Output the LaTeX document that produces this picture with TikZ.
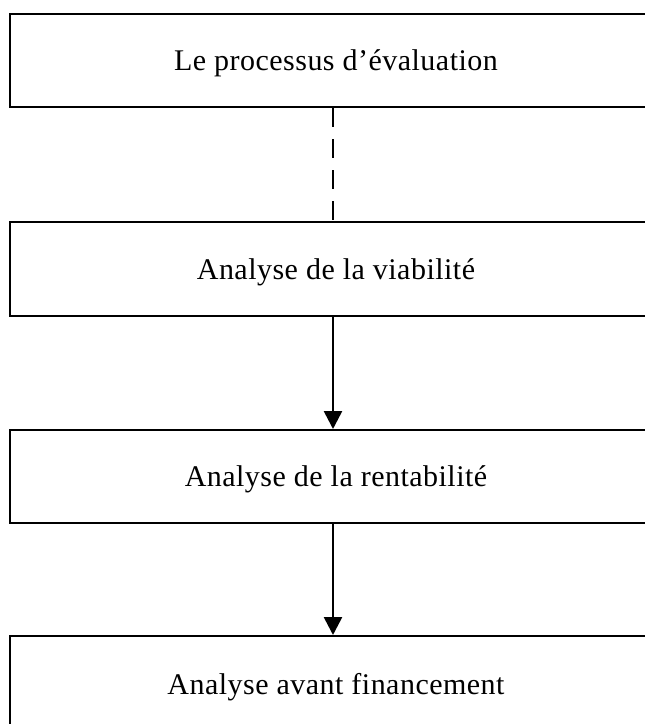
\documentclass[tikz,border=0pt]{standalone}
\usepackage{fontspec}
\setmainfont{Liberation Serif}[LetterSpace=1.6]
\usetikzlibrary{arrows.meta}
\begin{document}
\begin{tikzpicture}[x=1pt,y=1pt,
  stagebox/.style={draw, line width=2pt, anchor=north west, minimum width=652pt, minimum height=93pt, inner sep=0pt, font=\fontsize{30}{34}\selectfont, text depth=0pt},
  conn/.style={line width=2.6pt, -{Triangle[length=18pt,width=18pt]}},
  dashconn/.style={line width=2.6pt, dash pattern=on 19pt off 12pt}]
\useasboundingbox (0,0) rectangle (645,-724);
\clip (0,0) rectangle (645,-724);
\node[stagebox] (b1) at (9,-13) {Le processus d’évaluation};
\node[stagebox, minimum height=94pt] (b2) at (9,-221) {Analyse de la viabilité};
\node[stagebox] (b3) at (9,-429) {Analyse de la rentabilité};
\node[stagebox, minimum height=95pt] (b4) at (9,-635) {Analyse avant financement};
\draw[dashconn] (b1.south -| 333,0) -- (b2.north -| 333,0);
\draw[conn] (b2.south -| 333,0) -- (b3.north -| 333,0);
\draw[conn] (b3.south -| 333,0) -- (b4.north -| 333,0);
\end{tikzpicture}
\end{document}
